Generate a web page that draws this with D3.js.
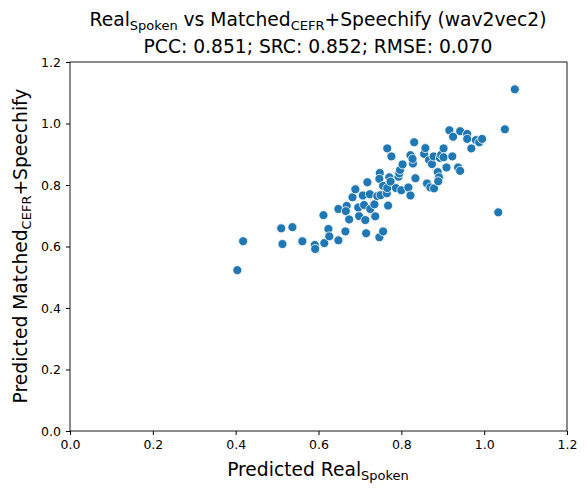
<!DOCTYPE html>
<html><head><meta charset="utf-8">
<script src="https://cdn.jsdelivr.net/npm/d3@7"></script>
<style>body{margin:0;background:#fff}text{font-family:"DejaVu Sans",sans-serif}</style>
</head><body><svg id="c" width="587" height="496"></svg>
<script>
const xVals=[1.074,1.050,1.034,0.404,0.418,0.510,0.537,0.513,0.561,0.591,0.592,0.614,0.624,0.626,0.648,0.665,0.612,0.648,0.668,0.666,0.674,0.682,0.689,0.698,0.696,0.707,0.710,0.713,0.715,0.718,0.724,0.725,0.735,0.737,0.742,0.748,0.747,0.750,0.756,0.747,0.756,0.766,0.776,0.765,0.768,0.766,0.771,0.774,0.787,0.793,0.795,0.797,0.800,0.803,0.817,0.822,0.822,0.828,0.827,0.831,0.834,0.855,0.858,0.862,0.867,0.870,0.874,0.879,0.878,0.888,0.891,0.889,0.893,0.896,0.902,0.902,0.909,0.923,0.937,0.942,0.916,0.925,0.942,0.959,0.959,0.969,0.980,0.988,0.995];
const yVals=[1.111,0.981,0.711,0.523,0.617,0.659,0.663,0.608,0.617,0.605,0.592,0.611,0.657,0.633,0.620,0.649,0.702,0.722,0.732,0.715,0.688,0.760,0.786,0.699,0.727,0.766,0.735,0.686,0.643,0.809,0.770,0.722,0.737,0.698,0.764,0.839,0.820,0.767,0.797,0.630,0.649,0.919,0.893,0.773,0.733,0.790,0.825,0.811,0.790,0.827,0.838,0.849,0.783,0.867,0.792,0.766,0.897,0.870,0.885,0.939,0.822,0.901,0.920,0.805,0.881,0.792,0.868,0.789,0.893,0.842,0.825,0.812,0.888,0.898,0.919,0.890,0.857,0.893,0.857,0.846,0.978,0.957,0.975,0.966,0.950,0.919,0.946,0.939,0.950];
const ticks=[0,0.2,0.4,0.6,0.8,1.0,1.2];
const svg=d3.select("#c");
const L=70,R=567,T=62,B=431;
const x=d3.scaleLinear().domain([0,1.2]).range([L,R]);
const y=d3.scaleLinear().domain([0,1.2]).range([B,T]);
const fmt=d3.format(".1f");
const gx=svg.append("g").attr("transform",`translate(0,${B})`).call(d3.axisBottom(x).tickValues(ticks).tickFormat(fmt).tickSizeOuter(0).tickSize(4).tickPadding(5));
const gy=svg.append("g").attr("transform",`translate(${L},0)`).call(d3.axisLeft(y).tickValues(ticks).tickFormat(fmt).tickSizeOuter(0).tickSize(4).tickPadding(5));
[gx,gy].forEach(g=>{g.selectAll("text").attr("font-size",12.5).attr("fill","#000").attr("font-family","DejaVu Sans");g.select(".domain").remove();});
svg.append("rect").attr("x",L).attr("y",T).attr("width",R-L).attr("height",B-T).attr("fill","none").attr("stroke","#000").attr("stroke-width",0.9);
svg.append("g").selectAll("circle").data(xVals).join("circle")
 .attr("cx",d=>x(d)).attr("cy",(d,i)=>y(yVals[i])).attr("r",4.5)
 .attr("fill","#1f77b4").attr("stroke","#fff").attr("stroke-width",0.8);
const fs=18.7, ss=13;
const t1=svg.append("text").attr("x",318).attr("y",26).attr("text-anchor","middle").attr("font-size",fs);
t1.append("tspan").text("Real");
t1.append("tspan").text("Spoken").attr("font-size",ss).attr("dy",4);
t1.append("tspan").text(" vs Matched").attr("dy",-4);
t1.append("tspan").text("CEFR").attr("font-size",ss).attr("dy",4);
t1.append("tspan").text("+Speechify (wav2vec2)").attr("dy",-4);
svg.append("text").attr("x",318).attr("y",53).attr("text-anchor","middle").attr("font-size",fs).text("PCC: 0.851; SRC: 0.852; RMSE: 0.070");
const xl=svg.append("text").attr("x",318).attr("y",476).attr("text-anchor","middle").attr("font-size",fs);
xl.append("tspan").text("Predicted Real");
xl.append("tspan").text("Spoken").attr("font-size",ss).attr("dy",4);
const yl=svg.append("text").attr("transform","translate(27,246) rotate(-90)").attr("text-anchor","middle").attr("font-size",fs);
yl.append("tspan").text("Predicted Matched");
yl.append("tspan").text("CEFR").attr("font-size",ss).attr("dy",4);
yl.append("tspan").text("+Speechify").attr("dy",-4);
</script></body></html>
